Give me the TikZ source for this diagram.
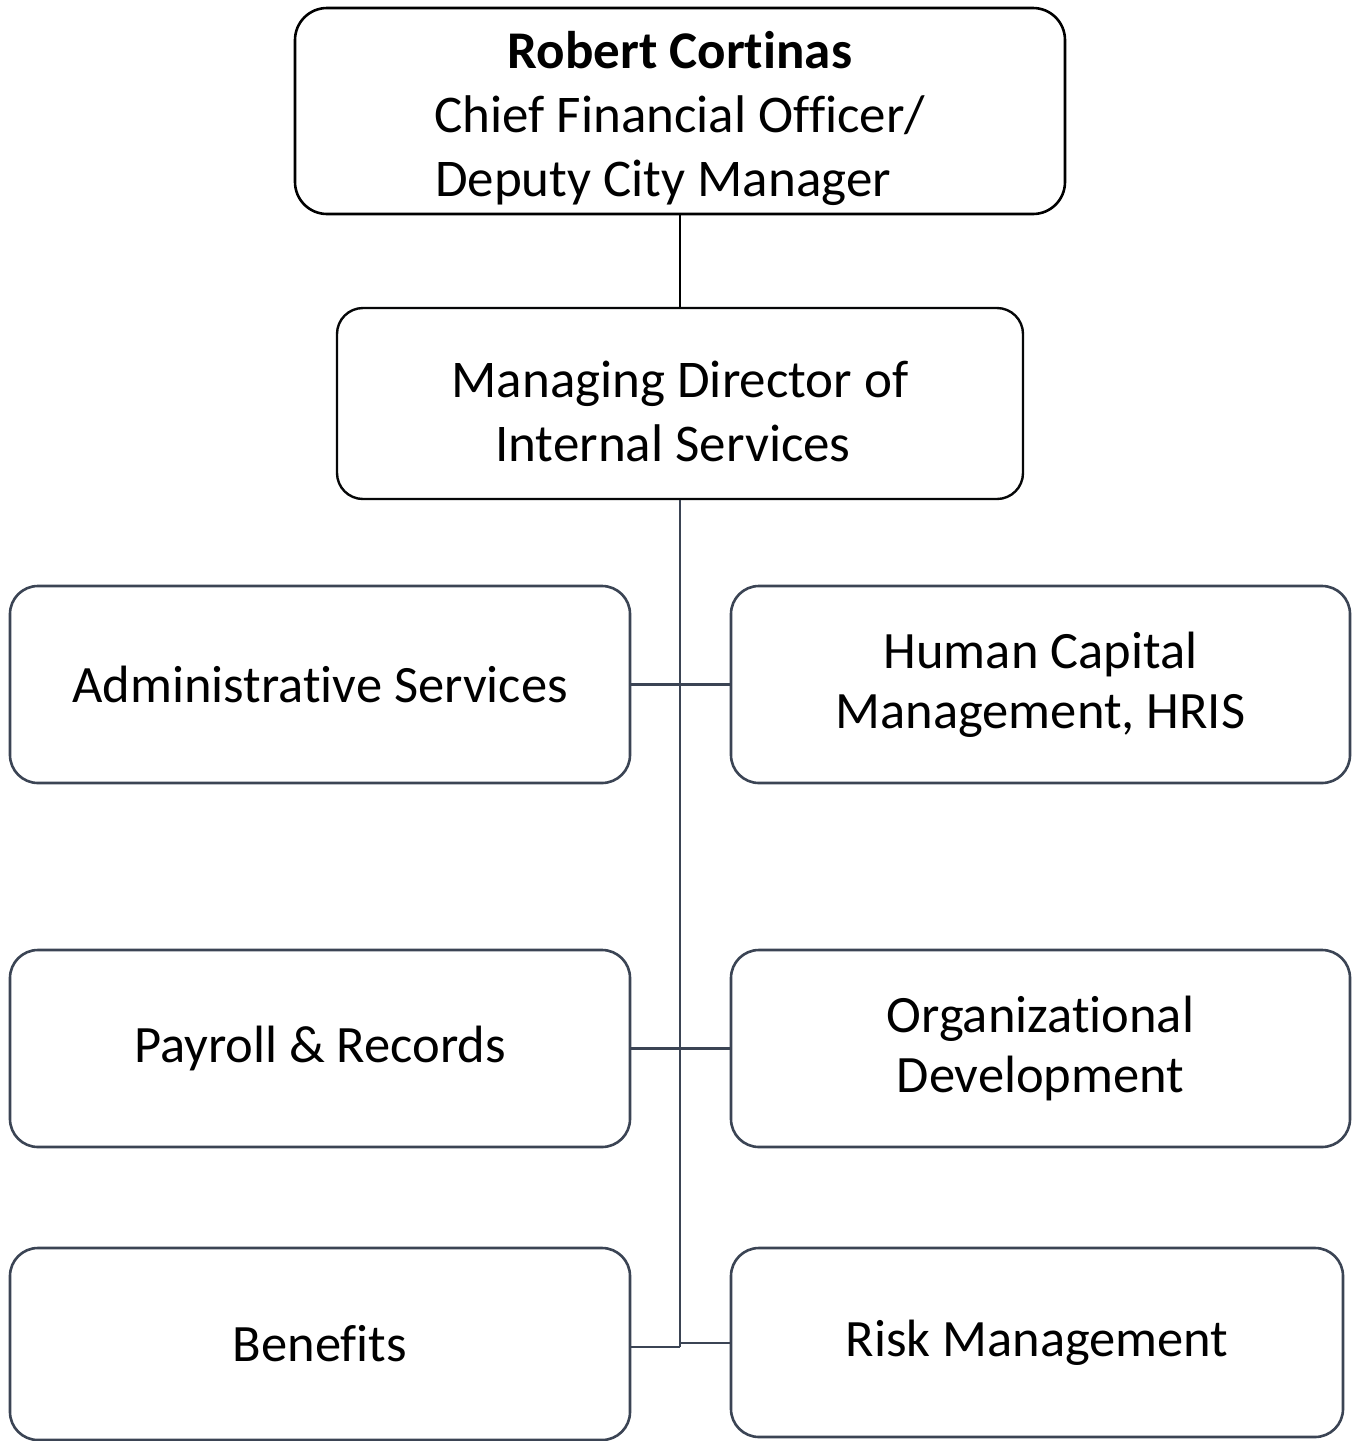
\documentclass[tikz,border=0pt]{standalone}
\usepackage{fontspec}
\setmainfont{Carlito}[Ligatures={NoCommon}]
\definecolor{slate}{RGB}{59,68,84}
\begin{document}
\begin{tikzpicture}[x=1pt,y=-1pt,
  box/.style={draw=slate,line width=2.6pt,rounded corners=28pt,inner sep=0pt,align=center,font=\fontsize{52.5}{60}\selectfont},
  topbox/.style={draw=black,line width=2.6pt,rounded corners=32pt,inner sep=0pt},
  toptext/.style={inner sep=0pt,align=center,font=\fontsize{53}{64}\selectfont},
  link/.style={draw=slate,line width=2.6pt},
  toplink/.style={draw=black,line width=2.2pt}]
\useasboundingbox (0,0) rectangle (1356,1441);
\node[topbox,minimum width=770pt,minimum height=206pt] (cfo) at (680,111) {};
\node[toptext] (cfotext) at (680,118)
  {\textbf{Robert Cortinas}\\Chief Financial Officer/\\Deputy City Manager\hspace*{34pt}};
\node[topbox,draw=black!90!slate,line width=2.4pt,rounded corners=26pt,minimum width=686pt,minimum height=191pt] (md) at (680,403.5) {};
\node[toptext] (mdtext) at (680,411)
  {Managing Director of\\Internal Services\hspace*{14pt}};
\node[box,minimum width=620pt,minimum height=197pt] (adm) at (320,684.5) {Administrative Services};
\node[box,minimum width=619pt,minimum height=197pt] (hcm) at (1040.5,684.5) {Human Capital\\Management, HRIS};
\node[box,minimum width=620pt,minimum height=197pt] (pay) at (320,1048.5) {Payroll \& Records};
\node[box,minimum width=619pt,minimum height=197pt] (od) at (1040.5,1048.5) {Organizational\\Development};
\node[box,minimum width=620pt,minimum height=192pt] (ben) at (320,1344) {Benefits};
\node[box,minimum width=612pt,minimum height=189pt] (risk) at (1037,1342.5) {Risk Management};
\coordinate (bend) at (680,1347);
\draw[toplink] (cfo.south -| 680,0) -- (md.north -| 680,0);
\draw[link] (md.south -| 680,0) -- (bend);
\draw[link] (adm.east) -- (hcm.west);
\draw[link] (pay.east) -- (od.west);
\draw[link] (ben.east |- bend) -- (bend);
\draw[link] (680,1343) -- (risk.west |- 680,1343);
\end{tikzpicture}
\end{document}
